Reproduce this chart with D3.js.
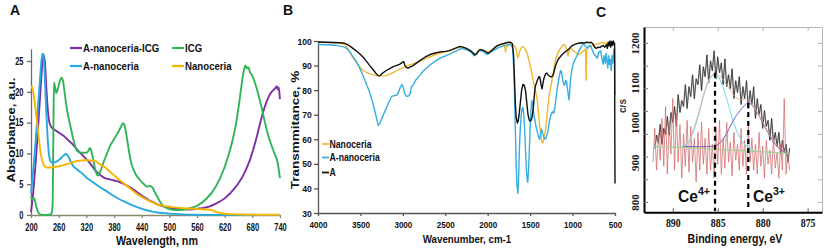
<!DOCTYPE html>
<html><head><meta charset="utf-8">
<script src="https://cdn.jsdelivr.net/npm/d3@7"></script>
<style>body{margin:0;background:#fff}svg{display:block}</style>
</head><body><svg id="c" width="825" height="249"></svg>
<script>
// ---------- Panel A: UV-vis absorbance ----------
const aTicksX = [200,260,320,380,440,500,560,620,680,740];
const aTicksY = [0,5,10,15,20,25];
const aPurple = [[200,0.5],[204,3],[208,6.5],[212,10.5],[216,15],[220,19.5],[224,24],[227,26],[230,25],[233,21],[236,17.5],[240,15],[245,14.2],[252,13.8],[260,13.4],[270,12.9],[280,12.2],[290,11.5],[300,10.6],[313,9.6],[327,8.5],[340,7.2],[350,6.5],[360,6.0],[370,5.8],[380,5.6],[391,5.4],[400,5.1],[412,4.6],[423,4.1],[434,3.5],[445,2.9],[456,2.4],[467,2.0],[478,1.6],[490,1.35],[500,1.2],[522,1.0],[543,0.9],[565,1.05],[586,1.35],[600,1.8],[620,2.7],[640,4.2],[660,6.4],[675,9],[690,12.8],[700,15.8],[710,18.2],[720,19.8],[726,20.3],[730,20.6],[733,20.9],[735,20.4],[737,20.7],[739,19.6],[740,18.8]];
const aGreen = [[200,3.0],[203,2.5],[206,2.8],[209,2.2],[212,1.2],[216,0.4],[220,0.1],[230,0],[240,0.05],[245,0.3],[247,2],[248,9],[249,17],[250,21.5],[252,20.8],[255,19.8],[258,20.4],[262,21.6],[266,22.3],[269,21.9],[273,19.8],[277,17.6],[282,15.6],[288,13.6],[294,11.6],[300,10.4],[310,10.1],[320,10.1],[325,10.5],[328,10.9],[331,10.3],[335,9.0],[340,7.2],[345,6.4],[350,7.0],[357,8.5],[365,10.0],[372,11.3],[380,12.3],[388,13.3],[395,14.3],[400,14.9],[404,14.2],[408,12.5],[413,10.1],[418,8.3],[425,6.9],[435,5.8],[445,5.0],[452,4.6],[458,4.7],[463,4.5],[468,3.8],[475,2.8],[482,1.9],[490,1.3],[500,0.95],[515,0.8],[530,0.85],[545,1.1],[560,1.5],[580,2.6],[600,4.5],[620,7.8],[635,11.5],[645,15],[652,18.5],[658,21.8],[662,23.6],[665,24.3],[668,23.8],[671,24.0],[675,23.2],[680,22.6],[685,21.6],[690,20.4],[695,19.0],[700,17.5],[705,15.8],[710,14.2],[715,12.8],[720,11.6],[725,10.6],[730,9.6],[734,8.8],[737,7.5],[740,6.0]];
const aCyan = [[200,3.5],[204,6.5],[208,10],[212,14],[216,18.5],[220,22.5],[223,25.3],[225,26.2],[227,26.0],[229,24],[231,20.5],[234,15.5],[237,11.5],[240,9.3],[244,8.6],[250,8.5],[256,8.7],[263,9.1],[270,9.6],[276,9.9],[281,9.5],[286,8.7],[292,7.9],[300,7.4],[310,6.8],[320,6.1],[335,5.3],[350,4.5],[365,3.8],[377,3.2],[391,2.6],[405,2.1],[419,1.6],[433,1.2],[447,0.85],[461,0.6],[475,0.4],[490,0.3],[510,0.18],[530,0.1],[550,0.05],[600,0.02],[660,0.01],[740,0]];
const aOrange = [[200,21],[203,20.6],[206,19.5],[209,17.8],[212,15.8],[215,13.8],[218,11.8],[221,10.0],[225,8.7],[230,7.9],[235,7.7],[242,7.7],[250,7.8],[260,7.9],[270,8.1],[280,8.3],[292,8.6],[305,8.8],[315,8.9],[325,8.9],[335,8.8],[341,8.7],[348,8.3],[355,8.0],[363,7.6],[373,6.9],[384,6.2],[395,5.5],[405,4.9],[420,4.0],[434,3.2],[448,2.6],[462,2.1],[476,1.7],[490,1.45],[505,1.3],[522,1.15],[540,1.05],[564,0.95],[580,0.9],[592,0.8],[600,0.55],[606,0.4],[615,0.25],[634,0.15],[660,0.08],[700,0.05],[740,0.05]];
const aNames = ["A-nanoceria-ICG","ICG","A-nanoceria","Nanoceria"];

// ---------- Panel B: FTIR transmittance ----------
const bTicksX = [4000,3500,3000,2500,2000,1500,1000,500];
const bTicksY = [30,40,50,60,70,80,90,100];
const bBlack = [[4000,99.6],[3900,99.5],[3800,99.4],[3700,99.2],[3650,98.5],[3600,97.3],[3550,96],[3500,94.5],[3470,93.5],[3430,91.8],[3390,90],[3350,88.3],[3320,87],[3290,85.8],[3270,85.9],[3250,86.6],[3220,87.4],[3190,88.1],[3150,88.9],[3120,89.5],[3080,90.0],[3040,90.5],[3010,91.2],[2990,91.6],[2975,90.0],[2960,89.3],[2940,89.0],[2910,89.5],[2880,90.0],[2840,91.0],[2800,92.0],[2740,93.4],[2680,94.5],[2620,95.1],[2570,95.5],[2500,95.8],[2450,96.1],[2400,96.8],[2350,97.5],[2330,97.8],[2300,97.6],[2250,97.0],[2200,96.0],[2170,95.0],[2150,94.3],[2130,94.8],[2100,96.3],[2080,96.5],[2050,96.2],[2030,95.8],[2010,95.2],[1990,95.0],[1970,95.6],[1950,96.2],[1920,97.2],[1890,98.0],[1850,98.6],[1810,99.0],[1770,99.4],[1730,99.5],[1710,99.0],[1695,94],[1685,85],[1675,75],[1665,69],[1650,66.6],[1640,67.5],[1630,70],[1615,75],[1600,80],[1585,82.3],[1570,82.0],[1555,80],[1540,75],[1525,70],[1510,67.8],[1495,67.4],[1480,68.5],[1465,72],[1450,78],[1440,81.5],[1425,83],[1410,84.5],[1395,85.5],[1385,85.2],[1370,82],[1360,80.5],[1350,82.5],[1340,84.5],[1320,86.5],[1305,87.0],[1290,86.3],[1270,85.6],[1250,85.4],[1230,86],[1215,88],[1200,90],[1180,91.8],[1160,93],[1130,94.2],[1090,95.5],[1050,96.5],[1010,98],[980,98.5],[940,99.0],[900,99.3],[860,99.2],[830,99.5],[800,99.3],[780,99.5],[760,98.8],[740,97.5],[720,97],[700,97.5],[680,97.3],[660,97.8],[640,98.2],[620,97.5],[600,98.5],[590,97],[580,99.5],[570,98],[560,100],[550,97.5],[540,99.8],[530,98.2],[520,100],[510,98.5],[505,99],[502,60],[500,42]];
const bCyan = [[4000,98.6],[3900,98.5],[3800,98.3],[3760,98.0],[3720,97.8],[3680,97.4],[3640,96.2],[3610,94.8],[3580,93.2],[3550,91.8],[3510,89],[3470,86],[3430,82.5],[3390,79],[3360,75.5],[3330,71.5],[3310,68.5],[3290,65.6],[3270,66.5],[3250,68.3],[3220,70.8],[3190,73],[3160,75.5],[3130,77.5],[3100,77.8],[3070,78.0],[3050,79.3],[3030,81.2],[3010,82.3],[2995,81],[2980,78.8],[2960,77.5],[2935,77.6],[2915,78.5],[2900,81.2],[2880,82],[2850,84],[2800,86],[2760,87.8],[2720,89],[2670,90.5],[2610,92],[2550,93.2],[2490,94],[2430,95],[2370,96],[2310,97],[2270,96.6],[2230,96.2],[2190,95.2],[2160,94],[2140,94.6],[2110,96],[2090,96.2],[2060,95.8],[2030,95],[2010,94.5],[1990,94.8],[1960,95.6],[1940,96],[1900,96.8],[1860,97.5],[1810,98],[1760,98.5],[1720,98.2],[1705,97],[1695,90],[1685,80],[1675,65],[1665,50],[1655,41],[1645,38],[1638,42],[1630,52],[1620,62],[1605,70],[1595,72.5],[1585,73],[1575,70],[1565,64],[1555,56],[1545,48],[1535,43.5],[1528,42.5],[1520,47],[1510,55],[1500,65],[1490,72],[1480,75.8],[1470,74],[1460,71],[1445,68],[1430,65],[1415,63],[1400,61],[1390,60],[1380,61.5],[1365,64.2],[1350,62],[1340,61],[1325,60],[1315,60.3],[1300,62],[1290,63.5],[1275,67],[1265,68.5],[1250,70.5],[1235,71.2],[1220,70.6],[1205,74],[1190,78],[1175,82],[1160,85],[1145,87.5],[1135,88],[1125,86],[1115,84],[1100,82],[1090,82.3],[1080,84],[1070,83.5],[1060,80.5],[1050,78],[1042,76],[1035,79],[1025,84],[1010,88],[990,91],[970,92.5],[950,94],[930,95.5],[910,97],[890,98],[870,98.8],[850,98],[830,97],[810,98],[790,98.2],[770,96.5],[750,95],[730,94],[710,93],[690,95.5],[670,96],[655,93],[640,90.5],[630,94],[615,91],[605,95],[595,92],[585,89],[575,94],[565,90.5],[555,92.5],[545,88],[535,94],[525,91],[515,96],[505,97],[502,88],[500,78]];
const bOrange = [[4000,99.5],[3900,99.4],[3800,99.2],[3720,99.0],[3680,98.4],[3650,97],[3620,95.2],[3590,93.2],[3550,91.3],[3510,89.5],[3470,88],[3430,87.2],[3390,86.6],[3350,86.2],[3310,86.0],[3270,85.8],[3230,85.7],[3190,86],[3150,86.5],[3110,87.2],[3070,88],[3020,88.8],[2960,89.8],[2900,90.5],[2840,91.2],[2780,92],[2720,93],[2650,94],[2570,95],[2500,95.6],[2450,96],[2390,96.8],[2330,97.5],[2280,97],[2230,96.3],[2180,95.3],[2160,94.8],[2130,95.3],[2100,96.5],[2060,96.3],[2030,95.8],[2010,95.5],[1980,95.6],[1950,96.5],[1920,97.3],[1890,98],[1850,98.4],[1810,98.6],[1795,97],[1790,95.5],[1785,97.2],[1770,98],[1730,99],[1700,98.3],[1680,97.8],[1665,96.5],[1655,94.5],[1645,93.2],[1635,94],[1625,95.5],[1610,97],[1590,97.8],[1575,97.5],[1555,96.5],[1540,95.5],[1520,93],[1500,90],[1480,87],[1465,84],[1445,81],[1425,78],[1410,74],[1400,70],[1390,66],[1380,63],[1370,60.5],[1360,59],[1350,58.5],[1340,60],[1330,62],[1320,63.5],[1310,67],[1295,72],[1280,77],[1265,80],[1250,82.5],[1230,86.5],[1215,90],[1200,92.5],[1180,94.5],[1160,96],[1140,97.2],[1120,98],[1100,98.5],[1085,98.2],[1070,96.5],[1055,94],[1045,95.5],[1030,97],[1010,96.8],[990,96],[970,95.5],[950,95],[930,94.5],[910,94.8],[890,95.3],[870,96],[855,96.5],[847,96],[840,84],[834,96],[825,97],[810,97.5],[790,97.8],[770,98],[750,98.3],[730,98.5],[710,98.8],[690,99],[660,99.2],[640,99.5],[620,98.8],[600,99.3],[580,98.5],[560,99.6],[540,98.8],[520,99.5],[505,99.2],[500,99]];
const bNames = ["Nanoceria","A-nanoceria","A"];

// ---------- Panel C: XPS Ce 3d ----------
const cTicksX = [890,885,880,875];
const cTicksY = [800,900,1000,1100,1200];
const cMinorY = [800,857,914,971,1029,1086,1143,1200];
const cData = [[892.0,935],[891.8,968],[891.6,948],[891.4,995],[891.2,945],[891.0,985],[890.8,970],[890.6,1015],[890.4,968],[890.2,1025],[890.0,1000],[889.8,1040],[889.6,990],[889.4,1070],[889.2,1025],[889.0,1055],[888.8,1040],[888.6,1095],[888.4,1035],[888.2,1090],[888.0,1065],[887.8,1120],[887.6,1060],[887.4,1110],[887.2,1095],[887.0,1145],[886.8,1080],[886.6,1140],[886.4,1115],[886.2,1170],[886.0,1100],[885.8,1155],[885.6,1130],[885.4,1180],[885.2,1110],[885.0,1165],[884.8,1125],[884.6,1150],[884.4,1095],[884.2,1160],[884.0,1090],[883.8,1120],[883.6,1085],[883.4,1135],[883.2,1060],[883.0,1105],[882.8,1075],[882.6,1115],[882.4,1045],[882.2,1090],[882.0,1060],[881.8,1105],[881.6,1035],[881.4,1080],[881.2,1045],[881.0,1090],[880.8,1010],[880.6,1060],[880.4,1020],[880.2,1045],[880.0,985],[879.8,1030],[879.6,990],[879.4,1005],[879.2,955],[879.0,1010],[878.8,950],[878.6,975],[878.4,940],[878.2,975],[878.0,920],[877.8,955],[877.6,925],[877.4,945],[877.2,900],[877.0,935]];
const cResidual = [[892.2,900],[892.0,985],[891.8,880],[891.6,970],[891.4,905],[891.2,1010],[891.0,890],[890.8,1040],[890.6,870],[890.4,1000],[890.2,920],[890.0,1060],[889.8,880],[889.6,1020],[889.4,900],[889.2,995],[889.0,860],[888.8,970],[888.6,890],[888.4,1005],[888.2,875],[888.0,990],[887.8,900],[887.6,960],[887.4,850],[887.2,975],[887.0,880],[886.8,1000],[886.6,895],[886.4,960],[886.2,870],[886.0,985],[885.8,880],[885.6,945],[885.4,860],[885.2,990],[885.0,895],[884.8,1005],[884.6,870],[884.4,960],[884.2,885],[884.0,1000],[883.8,900],[883.6,950],[883.4,865],[883.2,975],[883.0,905],[882.8,945],[882.6,880],[882.4,985],[882.2,890],[882.0,955],[881.8,870],[881.6,990],[881.4,900],[881.2,960],[881.0,880],[880.8,945],[880.6,870],[880.4,975],[880.2,890],[880.0,940],[879.8,860],[879.6,955],[879.4,895],[879.2,930],[879.0,870],[878.8,960],[878.6,885],[878.4,925],[878.2,860],[878.0,945],[877.8,880],[877.6,1060],[877.4,870],[877.2,920],[877.0,880]];
const cBaseline = [[892.2,940],[888,936],[884,931],[880,926],[877,922]];
const cFitCe4 = [[889,940],[888.5,945],[888,960],[887.5,990],[887,1030],[886.5,1075],[886,1105],[885.5,1118],[885,1115],[884.5,1095],[884,1060],[883.5,1020],[883,985],[882.5,960],[882,945],[881.5,935],[881,930]];
const cFitCe3 = [[888.8,940],[887,939],[885.5,940],[885,944],[884.5,955],[884,972],[883.5,995],[883,1015],[882.5,1030],[882,1043],[881.6,1049],[881.2,1044],[880.8,1032],[880.3,1012],[879.8,990],[879.2,966],[878.6,945],[878,932],[877.3,923]];
const cEnvelope = [[888,962],[887,1032],[886,1106],[885.3,1122],[884.5,1111],[884,1094],[883.5,1077],[883,1064],[882.5,1057],[882,1059],[881.6,1057],[881,1040],[880.3,1014],[879.5,980],[878.5,946],[877.3,924]];
const cPeaks = [{be:885.3, top:1125, ion:"4+"},{be:881.6, top:1049, ion:"3+"}];

// ---------- drawing ----------
const FONT = '"Liberation Sans", Arial, Helvetica, sans-serif';
const SERIF = '"Liberation Serif", "Times New Roman", serif';
const svg = d3.select('#c');
const fmt = d3.format('d');

function label(x, y, s, o = {}) {
  return svg.append('text')
    .attr('transform', `translate(${x},${y}) scale(${o.sx ?? 0.87},1) rotate(${o.rot || 0})`)
    .attr('text-anchor', o.anchor || 'start')
    .style('font-family', o.fam || FONT).style('font-weight', 'bold')
    .style('font-size', (o.size || 11) + 'px').attr('fill', o.fill || '#111')
    .text(s);
}
function styleAxis(g, color, sw, fs, sx, fam) {
  g.selectAll('path.domain').attr('stroke', color).attr('stroke-width', sw);
  g.selectAll('.tick line').attr('stroke', color).attr('stroke-width', sw);
  g.selectAll('.tick text').style('font-size', fs + 'px').style('font-weight', 'bold')
    .style('font-family', fam || FONT).attr('fill', '#111')
    .attr('transform', `scale(${sx},1)`);
}

// Panel A
const xA = d3.scaleLinear().domain([200, 740]).range([31, 280]);
const yA = d3.scaleLinear().domain([0, 27]).range([215, 48.7]);
const gAy = svg.append('g').attr('transform', 'translate(31,0)')
  .call(d3.axisLeft(yA).tickValues(aTicksY).tickSize(4).tickSizeOuter(0).tickPadding(6));
styleAxis(gAy, '#6d6d6d', 1.3, 10, 0.75);
const gAx = svg.append('g').attr('transform', 'translate(0,215)')
  .call(d3.axisBottom(xA).tickValues(aTicksX).tickSize(3).tickSizeOuter(0).tickPadding(6));
styleAxis(gAx, '#8a8a70', 1.3, 10, 0.75);
const lineA = d3.line().x(d => xA(d[0])).y(d => yA(d[1])).curve(d3.curveMonotoneX);
const aSeries = [[aPurple, '#7b2fa8'], [aGreen, '#2fb556'], [aCyan, '#27a9e1'], [aOrange, '#f7b500']];
aSeries.forEach(([d, c]) => svg.append('path').datum(d).attr('d', lineA)
  .attr('fill', 'none').attr('stroke', c).attr('stroke-width', 1.9).attr('stroke-linejoin', 'round'));
const aLeg = [[70, 48, aNames[0], '#7b2fa8'], [172, 48, aNames[1], '#2fb556'], [70, 66, aNames[2], '#27a9e1'], [172, 66, aNames[3], '#f7b500']];
aLeg.forEach(([x, y, n, c]) => {
  svg.append('line').attr('x1', x).attr('x2', x + 12).attr('y1', y).attr('y2', y).attr('stroke', c).attr('stroke-width', 2.2);
  label(x + 13, y + 4.2, n, { size: 11.5, sx: 0.84 });
});
label(14.5, 130, 'Absorbance, a.u.', { rot: -90, anchor: 'middle', size: 13, sx: 0.87 });
label(157, 245, 'Wavelength, nm', { anchor: 'middle', size: 12.5, sx: 0.86 });
label(10, 15, 'A', { size: 14, sx: 1 });

// Panel B
const xB = d3.scaleLinear().domain([4000, 500]).range([318, 615]);
const yB = d3.scaleLinear().domain([30, 100]).range([213, 41]);
const gBy = svg.append('g').attr('transform', 'translate(318,0)')
  .call(d3.axisLeft(yB).tickValues(bTicksY).tickFormat(fmt).tickSize(4).tickSizeOuter(0).tickPadding(3));
styleAxis(gBy, '#555', 1.3, 9.5, 0.9);
const gBx = svg.append('g').attr('transform', 'translate(0,213)')
  .call(d3.axisBottom(xB).tickValues(bTicksX).tickFormat(fmt).tickSize(3).tickSizeOuter(0).tickPadding(5));
styleAxis(gBx, '#555', 1.3, 9.5, 0.85);
const lineB = d3.line().x(d => xB(d[0])).y(d => yB(d[1]));
const bSeries = [[bOrange, '#f2b632'], [bCyan, '#36aee3'], [bBlack, '#111']];
bSeries.forEach(([d, c]) => svg.append('path').datum(d).attr('d', lineB)
  .attr('fill', 'none').attr('stroke', c).attr('stroke-width', 1.4).attr('stroke-linejoin', 'round'));
const bLeg = [[144, bNames[0], '#f2b632'], [157.5, bNames[1], '#36aee3'], [172.5, bNames[2], '#111']];
bLeg.forEach(([y, n, c]) => {
  svg.append('line').attr('x1', 322).attr('x2', 329).attr('y1', y).attr('y2', y).attr('stroke', c).attr('stroke-width', 1.8);
  label(329.5, y + 3.6, n, { size: 10, sx: 0.87 });
});
label(299, 130, 'Transmmitance, %', { rot: -90, anchor: 'middle', size: 13.5, sx: 0.87 });
label(467, 243, 'Wavenumber, cm-1', { anchor: 'middle', size: 11.5, sx: 0.85 });
label(283, 15, 'B', { size: 14, sx: 1 });

// Panel C
const xC = d3.scaleLinear().domain([893.2, 873.4]).range([644, 822]);
const yC = d3.scaleLinear().domain([774, 1240]).range([212.3, 27]);
svg.append('g').attr('transform', 'translate(0,27)')
  .call(d3.axisTop(xC).tickValues(cTicksX).tickSize(-4).tickSizeOuter(0).tickFormat(''))
  .call(g => { g.selectAll('path,line').attr('stroke', '#b5b5b5').attr('stroke-width', 1); });
svg.append('g').attr('transform', 'translate(822,0)')
  .call(d3.axisRight(yC).tickValues(cMinorY).tickSize(-4).tickSizeOuter(0).tickFormat(''))
  .call(g => { g.selectAll('path,line').attr('stroke', '#b5b5b5').attr('stroke-width', 1); });
const lineC = d3.line().x(d => xC(d[0])).y(d => yC(d[1]));
const lineCs = d3.line().x(d => xC(d[0])).y(d => yC(d[1])).curve(d3.curveMonotoneX);
svg.append('path').datum(cData).attr('d', lineC).attr('fill', 'none').attr('stroke', '#a0a0a0').attr('stroke-width', 1.6).attr('opacity', 0.55);
svg.append('path').datum(cData).attr('d', lineC).attr('fill', 'none').attr('stroke', '#2a2a2a').attr('stroke-width', 0.8);
svg.append('path').datum(cResidual).attr('d', lineC).attr('fill', 'none').attr('stroke', '#d26a6a').attr('stroke-width', 0.9).attr('opacity', 0.85);
svg.append('path').datum(cBaseline).attr('d', lineC).attr('fill', 'none').attr('stroke', '#a8cf98').attr('stroke-width', 1.2);
svg.append('path').datum(cFitCe4).attr('d', lineCs).attr('fill', 'none').attr('stroke', '#7fe0e8').attr('stroke-width', 1.1);
svg.append('path').datum(cFitCe3).attr('d', lineCs).attr('fill', 'none').attr('stroke', '#7a5fc0').attr('stroke-width', 1);
svg.append('path').datum(cEnvelope).attr('d', lineCs).attr('fill', 'none').attr('stroke', '#e6a58c').attr('stroke-width', 1).attr('opacity', 0.8);
cPeaks.forEach(p => svg.append('line').attr('x1', xC(p.be)).attr('x2', xC(p.be))
  .attr('y1', yC(p.top)).attr('y2', 211).attr('stroke', '#000').attr('stroke-width', 2.2).attr('stroke-dasharray', '5,4'));
const gCy = svg.append('g').attr('transform', 'translate(644,0)')
  .call(d3.axisLeft(yC).tickValues(cTicksY).tickFormat(fmt).tickSize(0).tickSizeOuter(0));
gCy.select('path.domain').attr('stroke', '#000').attr('stroke-width', 2);
gCy.selectAll('.tick text').attr('x', 0).attr('y', 0).attr('dy', 0)
  .attr('transform', 'translate(-5,0) rotate(-90)').attr('text-anchor', 'middle')
  .style('font-size', '11px').style('font-weight', 'bold').style('font-family', SERIF).attr('fill', '#222');
svg.append('g').attr('transform', 'translate(644,0)')
  .call(d3.axisLeft(yC).tickValues(cMinorY).tickSize(-4).tickSizeOuter(0).tickFormat(''))
  .call(g => { g.select('path.domain').remove(); g.selectAll('line').attr('stroke', '#777'); });
const gCx = svg.append('g').attr('transform', 'translate(0,212.3)')
  .call(d3.axisBottom(xC).tickValues(cTicksX).tickFormat(fmt).tickSize(-4).tickSizeOuter(0).tickPadding(6));
styleAxis(gCx, '#000', 2, 12, 0.82, SERIF);
gCx.selectAll('.tick line').attr('stroke', '#555').attr('stroke-width', 1);
label(735, 243, 'Binding energy, eV', { anchor: 'middle', size: 12, sx: 0.88 });
[[678, cPeaks[0].ion], [753, cPeaks[1].ion]].forEach(([x, ion]) => {
  const t = svg.append('text').attr('transform', `translate(${x},201.5) scale(0.92,1)`)
    .style('font-family', FONT).style('font-weight', 'bold').style('font-size', '17px').attr('fill', '#111');
  t.append('tspan').text('Ce');
  t.append('tspan').attr('dy', -7).style('font-size', '11.5px').text(ion);
});
svg.append('clipPath').attr('id', 'cut').append('rect').attr('x', 620).attr('y', 0).attr('width', 20).attr('height', 249);
svg.append('g').attr('clip-path', 'url(#cut)').append('text')
  .attr('transform', 'translate(626,106) rotate(-90)').attr('text-anchor', 'middle')
  .style('font-family', FONT).style('font-weight', 'bold').style('font-size', '10px').attr('fill', '#333').text('c/s');
label(596, 17, 'C', { size: 14, sx: 1 });
</script></body></html>
